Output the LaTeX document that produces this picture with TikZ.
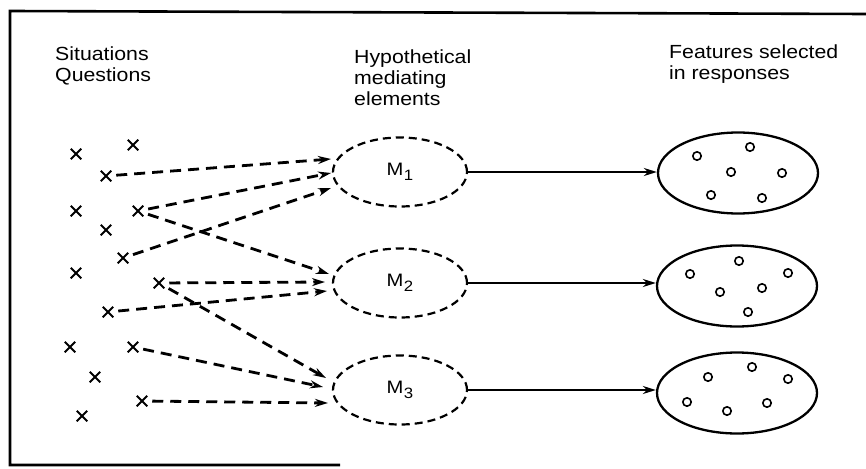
\documentclass[tikz,border=0pt]{standalone}
\usepackage{fontspec}
\setmainfont[FakeStretch=1.12]{Liberation Sans}
\usetikzlibrary{arrows.meta,shapes.misc,shapes.geometric}
\newcommand\msub[2]{#1\kern0.5pt\raisebox{-5pt}{\fontsize{15}{15}\selectfont #2}}
\begin{document}
\begin{tikzpicture}[x=1pt,y=-1pt,
  lab/.style={align=left, inner sep=0pt, anchor=north west, font=\fontsize{19}{21}\selectfont},
  xmark/.style={cross out, draw, line width=2pt, minimum size=8.5pt, inner sep=0pt},
  medel/.style={ellipse, draw, line width=2.2pt, dash pattern=on 8pt off 5pt, minimum width=134pt, minimum height=69pt, inner sep=0pt, font=\fontsize{18}{18}\selectfont},
  resp/.style={ellipse, draw, line width=2.3pt, minimum width=160pt, minimum height=81pt, inner sep=0pt},
  feat/.style={line width=1.6pt},
  darr/.style={line width=2.8pt, dash pattern=on 11pt off 7pt, -{Stealth[length=13pt,width=8pt]}, shorten <=5pt},
  sarr/.style={line width=2.4pt, -{Stealth[length=13pt,width=8pt]}}
]
\useasboundingbox (0,0) rectangle (866,468);
% frame
\draw[line width=2.6pt] (866,14) -- (10,11) -- (10,465) -- (340,465);

% headings
\node[lab] (h1) at (55,47) {Situations\\Questions};
\node[lab] (h2) at (354,50) {Hypothetical\\mediating\\elements};
\node[lab] (h3) at (669,45) {Features selected\\in responses};

% crosses
\node[xmark] (c1)  at (76,154)  {};
\node[xmark] (c2)  at (133,145) {};
\node[xmark] (c3)  at (106,176) {};
\node[xmark] (c4)  at (76,211)  {};
\node[xmark] (c5)  at (138,211) {};
\node[xmark] (c6)  at (106,230) {};
\node[xmark] (c7)  at (123,258) {};
\node[xmark] (c8)  at (76,273)  {};
\node[xmark] (c9)  at (159,283) {};
\node[xmark] (c10) at (108,312) {};
\node[xmark] (c11) at (70,347)  {};
\node[xmark] (c12) at (133,347) {};
\node[xmark] (c13) at (95,377)  {};
\node[xmark] (c14) at (142,401) {};
\node[xmark] (c15) at (82,416)  {};

% mediating elements
\node[medel] (m1) at (400,172) {\msub{M}{1}};
\node[medel] (m2) at (400,283) {\msub{M}{2}};
\node[medel] (m3) at (400,390) {\msub{M}{3}};

% response sets
\node[resp] (r1) at (738,173) {};
\node[resp] (r2) at (737,286) {};
\node[resp] (r3) at (737,393) {};

% arrow targets
\coordinate (t11) at (331,159);
\coordinate (t12) at (331,173);
\coordinate (t13) at (331,188);
\coordinate (t21) at (329,274);
\coordinate (t22) at (325,282);
\coordinate (t23) at (327,291);
\coordinate (t31) at (326,378);
\coordinate (t32) at (323,387);
\coordinate (t33) at (328,403);

% dashed connectors
\draw[darr] (c3) -- (t11);
\draw[darr] (c5) -- (t12);
\draw[darr] (c7) -- (t13);
\draw[darr] (c5) -- (t21);
\draw[darr] (c9) -- (t22);
\draw[darr] (c10) -- (t23);
\draw[darr] (c9) -- (t31);
\draw[darr] (c12) -- (t32);
\draw[darr] (c14) -- (t33);

% solid connectors
\draw[sarr] (m1.east) -- (m1.east -| r1.west);
\draw[sarr] (m2.east) -- (m2.east -| r2.west);
\draw[sarr] (m3.east) -- (m3.east -| r3.west);

% features
\foreach \p in {(697,156),(750,147),(731,172),(782,173),(711,195),(762,198),
                (690,274),(739,261),(788,273),(720,292),(762,288),(748,312),
                (708,377),(752,367),(788,379),(687,402),(727,411),(767,403)}
  \draw[feat] \p circle (4.2pt);
\end{tikzpicture}
\end{document}
